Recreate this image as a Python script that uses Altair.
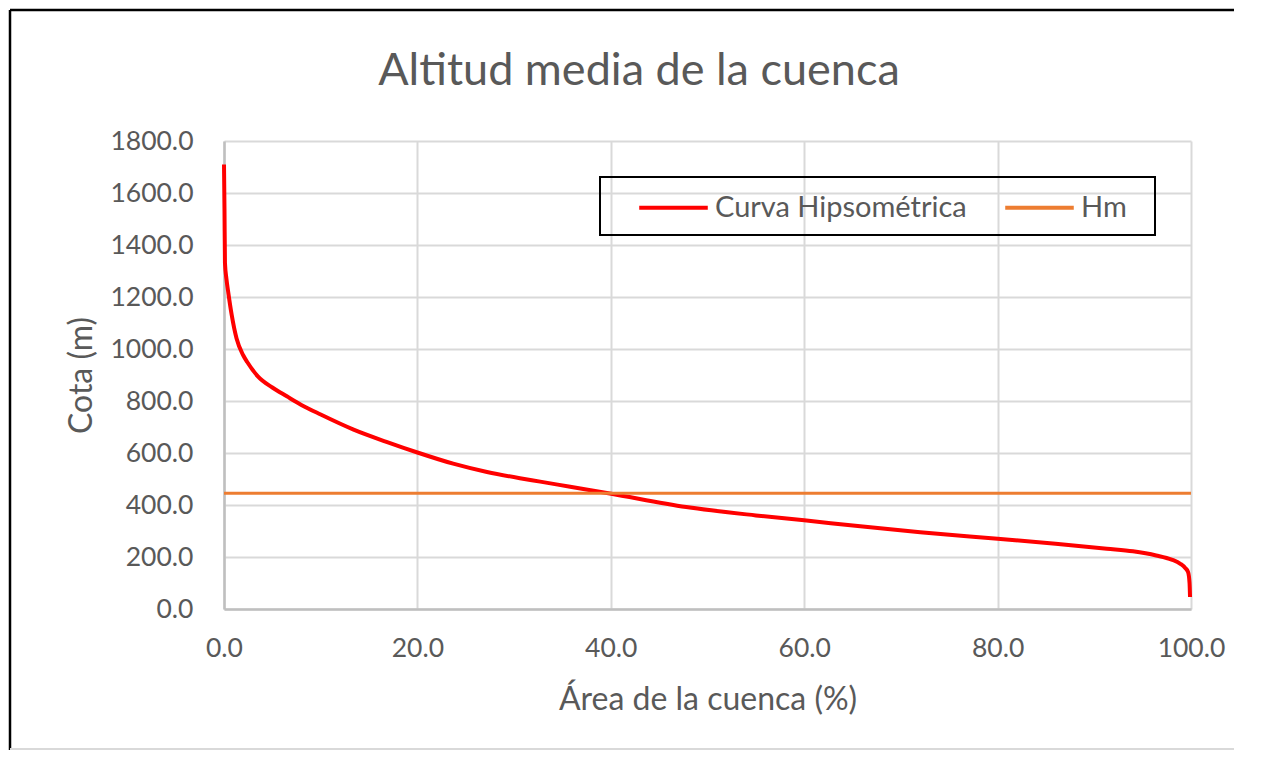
import altair as alt
import pandas as pd

# Data
area_pct = [0, 0.05, 0.1, 0.25, 0.45, 0.8, 1.3, 2.0, 2.4, 3.5, 5.0, 6.5, 8.0, 10.0,
            13.4, 16.8, 20.0, 23.7, 27.2, 30.6, 32.7, 35.8, 39.9, 47.8, 55.0, 60.0,
            65.8, 72.0, 80.0, 86.0, 91.3, 94.0, 96.4, 98.0, 98.9, 99.4, 99.7, 99.85, 99.9]
cota = [1710, 1540, 1330, 1270, 1215, 1130, 1040, 975, 950, 895, 852, 818, 785, 748,
        690, 643, 602, 559, 527, 503, 490, 470, 444, 392, 360, 341,
        318, 295, 270, 251, 232, 222, 206, 190, 174, 158, 142, 100, 46]
hm_value = 445
series_names = ["Curva Hipsométrica", "Hm"]
series_colors = ["#ff0000", "#ed7d31"]
x_ticks = [0, 20, 40, 60, 80, 100]
y_ticks = [0, 200, 400, 600, 800, 1000, 1200, 1400, 1600, 1800]
title_text = "Altitud media de la cuenca"

FONT = "Lato"
TXT = "#595959"

df = pd.DataFrame({"area": area_pct, "cota": cota, "serie": series_names[0]})

color = alt.Color(
    "serie:N",
    scale=alt.Scale(domain=series_names, range=series_colors),
    legend=alt.Legend(
        title=None,
        orient="none",
        legendX=413,
        legendY=30,
        direction="horizontal",
        symbolType="stroke",
        symbolSize=4700,
        symbolStrokeWidth=4,
        labelFontSize=29,
        labelFont=FONT,
        labelColor=TXT,
        labelOffset=5,
        columnPadding=30,
        padding=0,
        labelLimit=400,
    ),
)

x_enc = alt.X(
    "area:Q",
    scale=alt.Scale(domain=[0, 100], nice=False, zero=True),
    axis=alt.Axis(
        values=x_ticks, format=".1f", title="Área de la cuenca (%)",
        labelPadding=26, titlePadding=23, labelFlush=False,
    ),
)
y_enc = alt.Y(
    "cota:Q",
    scale=alt.Scale(domain=[0, 1800], nice=False),
    axis=alt.Axis(
        values=y_ticks, format=".1f", title="Cota (m)",
        labelPadding=31, titlePadding=11, labelFlush=False,
    ),
)

curve = alt.Chart(df).mark_line(strokeWidth=4, interpolate="monotone").encode(
    x=x_enc, y=y_enc, color=color
)

hm = alt.Chart(alt.Data(values=[{}])).mark_rule(strokeWidth=3).encode(
    y=alt.datum(hm_value), color=alt.datum(series_names[1])
)

deco = alt.Data(values=[{}])
legend_box = alt.Chart(deco).mark_rect(
    filled=False, stroke="black", strokeWidth=2, fillOpacity=0
).encode(
    x=alt.value(376), x2=alt.value(931), y=alt.value(36), y2=alt.value(94)
)
title = alt.Chart(deco).mark_text(
    text=title_text, font=FONT, fontSize=45, color=TXT,
    align="center", baseline="middle"
).encode(x=alt.value(415), y=alt.value(-70))

frame_left = alt.Chart(deco).mark_rule(color="black", strokeWidth=2.5).encode(
    x=alt.value(-214), y=alt.value(-131), y2=alt.value(609)
)
frame_top = alt.Chart(deco).mark_rule(color="black", strokeWidth=2.5).encode(
    x=alt.value(-214), x2=alt.value(1010), y=alt.value(-131)
)
frame_bottom = alt.Chart(deco).mark_rule(color="#d9d9d9", strokeWidth=2).encode(
    x=alt.value(-214), x2=alt.value(1010), y=alt.value(608)
)

chart = (
    alt.layer(curve, hm, legend_box, title, frame_left, frame_top, frame_bottom)
    .properties(width=967, height=468, padding=0)
    .configure_view(stroke=None)
    .configure_axis(
        labelFont=FONT, labelFontSize=26.5, labelColor=TXT,
        titleFont=FONT, titleFontSize=32, titleFontWeight="normal", titleColor=TXT,
        ticks=False, domainColor="#bfbfbf", domainWidth=2.5,
        gridColor="#d9d9d9", gridWidth=2, grid=True,
    )
)

chart.save("out.html", embed_options={"renderer": "svg", "actions": False})
